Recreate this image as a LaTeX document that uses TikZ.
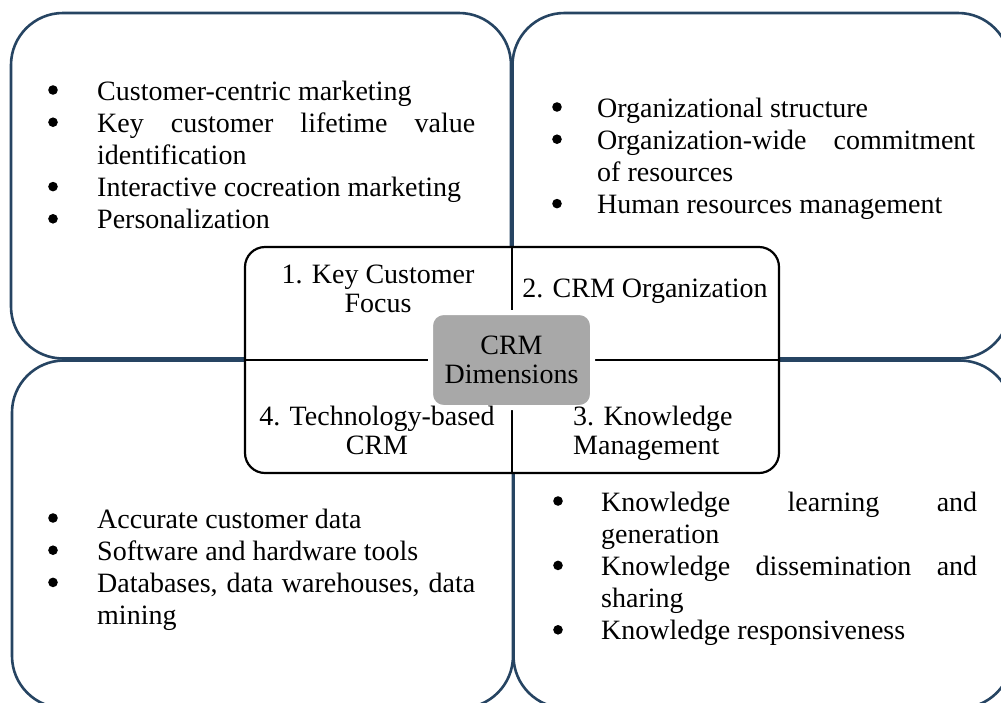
\documentclass[tikz,border=0pt]{standalone}
\usepackage{fontspec}
\setmainfont{Liberation Serif}
\definecolor{frameblue}{RGB}{38,68,98}
\definecolor{hubgray}{RGB}{168,168,168}
\newcommand{\itm}[1]{\par\noindent #1}
\newcommand{\listfmt}{\fontsize{28}{32.2}\selectfont\hyphenpenalty=10000\exhyphenpenalty=10000\tolerance=10000\parindent=0pt}
\newcommand{\lblfmt}{\fontsize{28}{29}\selectfont}
\begin{document}
\begin{tikzpicture}[x=1pt,y=-1pt,
  quad/.style={draw=frameblue, line width=2.6pt, rounded corners=52pt},
  corebox/.style={draw=black, line width=2.2pt, fill=white, rounded corners=20pt, inner sep=0pt},
  divider/.style={draw=black, line width=2.2pt},
  hubbox/.style={fill=hubgray, draw=white, line width=5pt, rounded corners=13pt, inner sep=0pt, align=center, font=\lblfmt},
  txt/.style={inner sep=0pt, anchor=base west},
  lbl/.style={inner sep=0pt, anchor=base},
  dot/.style={fill=black}]
\useasboundingbox (0,0) rectangle (1001,702);
\begin{scope}
\clip (0,0) rectangle (1001,702);
\draw[quad] (11,13) rectangle (511,358.5);
\draw[quad] (512.5,13) rectangle (1010,358.5);
\draw[quad] (12,360.5) rectangle (513,708);
\draw[quad] (513.5,360.5) rectangle (1012,708);
\end{scope}
\node[corebox, minimum width=534pt, minimum height=226pt] (core) at (512,360) {};
\draw[divider] (core.north) -- (core.south);
\draw[divider] (core.west) -- (core.east);
\node[hubbox, minimum width=162pt, minimum height=95pt] (hub) at (511.5,360) {CRM\\Dimensions};
\node[lbl] (k1) at (378,283) {\parbox[t]{240pt}{\lblfmt\centering 1. Key Customer\\Focus}};
\node[lbl] (k2) at (645,297) {\lblfmt 2. CRM Organization};
\node[lbl] (k4) at (377,425) {\parbox[t]{260pt}{\lblfmt\centering 4. Technology-based\\CRM}};
\node[txt] (k3) at (573,425) {\parbox[t]{200pt}{\lblfmt\raggedright 3. Knowledge\\Management}};
\node[txt] (tl) at (97,100) {\parbox[t]{378pt}{\listfmt
  \itm{Customer-centric marketing}
  \itm{Key customer lifetime value\linebreak identification}
  \itm{Interactive cocreation marketing}
  \itm{Personalization}}};
\node[txt] (tr) at (597,117) {\parbox[t]{378pt}{\listfmt
  \itm{Organizational structure}
  \itm{Organization-wide commitment\linebreak of resources}
  \itm{Human resources management}}};
\node[txt] (bl) at (97,528) {\parbox[t]{378pt}{\listfmt
  \itm{Accurate customer data}
  \itm{Software and hardware tools}
  \itm{Databases, data warehouses, data\linebreak mining}}};
\node[txt] (br) at (601,511) {\parbox[t]{376pt}{\listfmt
  \itm{Knowledge learning and\linebreak generation}
  \itm{Knowledge dissemination and\linebreak sharing}
  \itm{Knowledge responsiveness}}};
% bullets
\foreach \k in {0,1,3,4} \fill[dot] (53,{90+32.2*\k}) circle (4.8);
\foreach \k in {0,1,3} \fill[dot] (557,{107+32.2*\k}) circle (4.8);
\foreach \k in {0,1,2} \fill[dot] (53,{518+32.2*\k}) circle (4.8);
\foreach \k in {0,2,4} \fill[dot] (558,{501+32.2*\k}) circle (4.8);
\end{tikzpicture}
\end{document}
